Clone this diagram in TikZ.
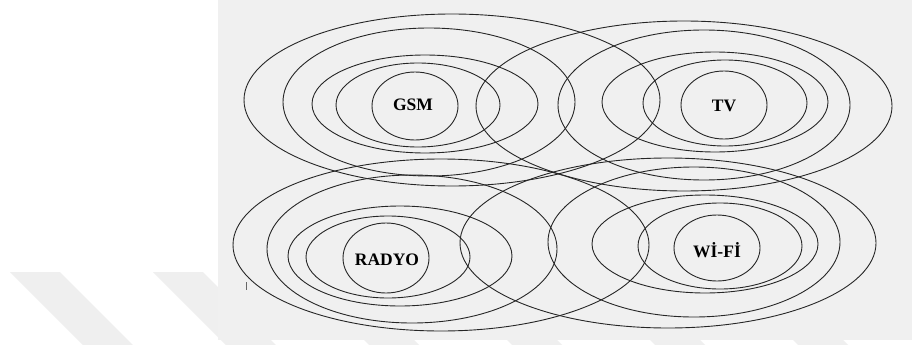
\documentclass[tikz,border=0pt]{standalone}
\usepackage{fontspec}
\setmainfont{Liberation Serif}
\definecolor{bggray}{HTML}{F0F0F0}
\definecolor{wmgray}{HTML}{EFEFEF}
\definecolor{ink}{HTML}{262626}
\tikzset{
  ring/.style={draw=ink, line width=0.9pt},
  lbl/.style={font=\bfseries\fontsize{17.5}{20}\selectfont, text=black, inner sep=0pt},
  stripe/.style={fill=wmgray, draw=none}
}
\begin{document}
\begin{tikzpicture}[x=1pt,y=-1pt]
\useasboundingbox (0,0) rectangle (912,345);
\fill[white] (0,0) rectangle (912,345);
% watermark stripes
\foreach \k in {0,...,6}{
  \fill[stripe] ({10+143*\k},272) -- ({60+143*\k},272) -- ({133+143*\k},345) -- ({83+143*\k},345) -- cycle;
}
\fill[bggray] (218,0) rectangle (912,340);
% small tick
\draw[ink!70, line width=0.5pt] (246,282) -- (246,290);
% GSM group
\draw[ring] (415,106) ellipse [x radius=43pt, y radius=34pt];
\draw[ring] (418,105) ellipse [x radius=82pt, y radius=42pt];
\draw[ring] (425,104) ellipse [x radius=113pt, y radius=49pt];
\draw[ring] (429,102) ellipse [x radius=146pt, y radius=74pt];
\draw[ring] (452,100) ellipse [x radius=208pt, y radius=86pt];
% TV group
\draw[ring] (724,105) ellipse [x radius=43pt, y radius=34pt];
\draw[ring] (725,103) ellipse [x radius=82pt, y radius=43pt];
\draw[ring] (715,102) ellipse [x radius=113pt, y radius=50pt];
\draw[ring] (704,105) ellipse [x radius=146pt, y radius=75pt];
\draw[ring] (684,106) ellipse [x radius=208pt, y radius=85pt];
% RADYO group
\draw[ring] (386,258) ellipse [x radius=43pt, y radius=35pt];
\draw[ring] (388,257) ellipse [x radius=82pt, y radius=41pt];
\draw[ring] (400,256) ellipse [x radius=112pt, y radius=50pt];
\draw[ring] (412,249) ellipse [x radius=145pt, y radius=74pt];
\draw[ring] (441,245) ellipse [x radius=208pt, y radius=86pt];
% Wi-Fi group
\draw[ring] (717,248) ellipse [x radius=43pt, y radius=33pt];
\draw[ring] (720,246) ellipse [x radius=82pt, y radius=43pt];
\draw[ring] (705,244) ellipse [x radius=113pt, y radius=49pt];
\draw[ring] (694,242) ellipse [x radius=146pt, y radius=75pt];
\draw[ring] (668,243) ellipse [x radius=208pt, y radius=85pt];
% labels
\node[lbl] (gsm) at (413,105) {GSM};
\node[lbl] (tv) at (724,106) {TV};
\node[lbl] (radyo) at (387,260) {RADYO};
\node[lbl] (wifi) at (717,250) {Wİ-Fİ};
\end{tikzpicture}
\end{document}
